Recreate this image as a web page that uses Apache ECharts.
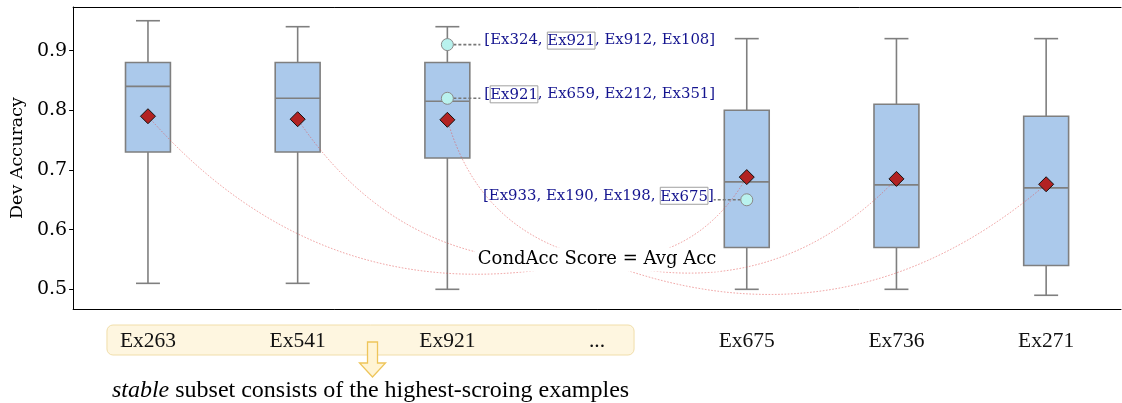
<!DOCTYPE html>
<html>
<head>
<meta charset="utf-8">
<script src="https://cdn.jsdelivr.net/npm/echarts@6.0.0/dist/echarts.min.js"></script>
<style>
  html, body { margin: 0; padding: 0; background: #fff; }
  #chart { width: 1122px; height: 403px; }
</style>
</head>
<body>
<div id="chart"></div>
<script>
// Examples on the x axis ('...' marks the elided middle of the ranking)
const categories = ['Ex263', 'Ex541', 'Ex921', '...', 'Ex675', 'Ex736', 'Ex271'];

// Box statistics of dev accuracy per example (null = no box)
const whiskerLow  = [0.51, 0.51, 0.50, null, 0.50, 0.50, 0.49];
const quartile1   = [0.73, 0.73, 0.72, null, 0.57, 0.57, 0.54];
const medians     = [0.84, 0.82, 0.815, null, 0.68, 0.675, 0.67];
const quartile3   = [0.88, 0.88, 0.88, null, 0.80, 0.81, 0.79];
const whiskerHigh = [0.95, 0.94, 0.94, null, 0.92, 0.92, 0.92];

// CondAcc score (average accuracy) per example
const means = [0.79, 0.785, 0.784, null, 0.688, 0.685, 0.676];

// Highlighted runs: example, accuracy, and the in-context example lists
const noteCategories = ['Ex921', 'Ex921', 'Ex675'];
const noteValues = [0.91, 0.82, 0.65];
const noteLists = [
  ['Ex324', 'Ex921', 'Ex912', 'Ex108'],
  ['Ex921', 'Ex659', 'Ex212', 'Ex351'],
  ['Ex933', 'Ex190', 'Ex198', 'Ex675']
];

// Y axis ticks
const yTicks = [0.5, 0.6, 0.7, 0.8, 0.9];

// Caption texts
const scoreText = 'CondAcc Score = Avg Acc';
const scoreAnchor = ['...', 0.55];
const captionItalic = 'stable';
const captionRest = ' subset consists of the highest-scroing examples';
const stableCount = 3;

const SERIF = '"DejaVu Serif", serif';
const TIMES = '"Liberation Serif", "Times New Roman", serif';

const boxData = [];
const meanData = [];
categories.forEach((c, i) => {
  if (medians[i] !== null) {
    boxData.push([i, whiskerLow[i], quartile1[i], medians[i], quartile3[i], whiskerHigh[i]]);
    meanData.push([i, means[i]]);
  }
});
const noteData = noteCategories.map((c, i) => [categories.indexOf(c), noteValues[i]]);
const scoreIdx = categories.indexOf(scoreAnchor[0]);

function renderBox(params, api) {
  const x = api.value(0);
  const lo = api.coord([x, api.value(1)]);
  const q1 = api.coord([x, api.value(2)]);
  const md = api.coord([x, api.value(3)]);
  const q3 = api.coord([x, api.value(4)]);
  const hi = api.coord([x, api.value(5)]);
  const band = api.size([1, 0])[0];
  const hw = band * 0.15, cw = band * 0.08;
  const cx = q1[0];
  const line = { stroke: '#7f7f7f', lineWidth: 1.6 };
  return {
    type: 'group',
    children: [
      { type: 'line', shape: { x1: cx, y1: lo[1], x2: cx, y2: q1[1] }, style: line },
      { type: 'line', shape: { x1: cx, y1: q3[1], x2: cx, y2: hi[1] }, style: line },
      { type: 'line', shape: { x1: cx - cw, y1: lo[1], x2: cx + cw, y2: lo[1] }, style: line },
      { type: 'line', shape: { x1: cx - cw, y1: hi[1], x2: cx + cw, y2: hi[1] }, style: line },
      { type: 'rect', shape: { x: cx - hw, y: q3[1], width: 2 * hw, height: q1[1] - q3[1] },
        style: { fill: '#abc9eb', stroke: '#7f7f7f', lineWidth: 1.6 } },
      { type: 'line', shape: { x1: cx - hw, y1: md[1], x2: cx + hw, y2: md[1] }, style: line }
    ]
  };
}

function renderLink(params, api) {
  const p = api.coord([api.value(0), api.value(1)]);
  const t = api.coord([scoreIdx, scoreAnchor[1]]);
  const dx = p[0] - t[0], dy = p[1] - t[1];
  // arc bending downwards, 0.3 of the chord length
  const px = dx > 0 ? -dy : dy, py = dx > 0 ? dx : -dx;
  const mx = (p[0] + t[0]) / 2, my = (p[1] + t[1]) / 2;
  return {
    type: 'bezierCurve',
    shape: { x1: t[0], y1: t[1], x2: p[0], y2: p[1], cpx1: mx + 0.3 * px, cpy1: my + 0.3 * py },
    style: { fill: null, stroke: 'rgba(225,80,80,0.6)', lineWidth: 0.9, lineDash: [1.6, 1.6] }
  };
}

function renderNote(params, api) {
  const idx = api.value(0);
  const p = api.coord([idx, api.value(1)]);
  const own = categories[idx];
  const ids = noteLists[params.dataIndex];
  const text = '[' + ids.map(id => id === own ? '{h|' + id + '}' : id).join(', ') + ']';
  const dir = idx > scoreIdx ? -1 : 1;
  const gap = dir > 0 ? 37 : 33;
  return {
    type: 'group',
    children: [
      { type: 'line', shape: { x1: p[0] + dir * 6, y1: p[1], x2: p[0] + dir * 33, y2: p[1] },
        style: { stroke: '#777', lineWidth: 1.6, lineDash: [3, 2] } },
      { type: 'text', x: p[0] + dir * gap, y: p[1] - 4,
        style: {
          text: text, fill: '#14148f', fontFamily: SERIF, fontSize: 14.9,
          align: dir > 0 ? 'left' : 'right', verticalAlign: 'middle',
          rich: { h: { fontFamily: SERIF, fontSize: 14.9, fill: '#14148f',
                       borderColor: '#a0a0a0', borderWidth: 1, padding: [2, 0, 0, 0] } }
        } }
    ]
  };
}

// Score caption in the middle of the plot; white box hides the arc ends under it
function renderScore(params, api) {
  const t = api.coord([api.value(0), api.value(1)]);
  return {
    type: 'text', x: t[0], y: t[1],
    style: {
      text: scoreText, fill: '#000', fontFamily: SERIF, fontSize: 18,
      align: 'center', verticalAlign: 'middle',
      backgroundColor: '#fff', padding: [3, 3, 3, 3]
    }
  };
}

const chart = echarts.init(document.getElementById('chart'), null, { renderer: 'canvas' });

const option = {
  animation: false,
  backgroundColor: '#fff',
  grid: { left: 70, right: 1, top: 7, bottom: 94, show: false },
  xAxis: [{
    type: 'category',
    data: categories,
    boundaryGap: true,
    z: 10,
    axisLine: { lineStyle: { color: '#000', width: 1 } },
    axisTick: { alignWithLabel: true, length: 4, lineStyle: { color: '#000' } },
    axisLabel: { interval: 0, margin: 32, verticalAlign: 'middle', color: '#111',
                 fontFamily: TIMES, fontSize: 21.5 },
    splitLine: { show: false }
  }, {
    // top frame line of the plot area
    type: 'category',
    data: categories,
    position: 'top',
    axisLine: { show: true, lineStyle: { color: '#000', width: 1 } },
    axisTick: { show: false },
    axisLabel: { show: false },
    splitLine: { show: false }
  }],
  yAxis: {
    type: 'value',
    min: 0.467,
    max: 0.973,
    name: 'Dev Accuracy',
    nameLocation: 'middle',
    nameRotate: 90,
    nameGap: 45,
    nameTextStyle: { fontFamily: SERIF, fontSize: 17.5, color: '#000' },
    axisLine: { show: true, lineStyle: { color: '#000', width: 1 } },
    axisTick: { show: true, length: 4, customValues: yTicks, lineStyle: { color: '#000' } },
    axisLabel: { customValues: yTicks, margin: 6, color: '#000', fontFamily: SERIF, fontSize: 19,
                 formatter: v => v.toFixed(1) },
    splitLine: { show: false }
  },
  series: [
    { type: 'custom', name: 'box', z: 2, data: boxData, renderItem: renderBox,
      encode: { x: 0, y: [1, 2, 3, 4, 5] } },
    { type: 'custom', name: 'links', z: 3, data: meanData, renderItem: renderLink,
      encode: { x: 0, y: 1 } },
    { type: 'scatter', name: 'runs', z: 4, data: noteData, symbol: 'circle', symbolSize: 12,
      itemStyle: { color: '#b9f2ee', borderColor: '#8a8a8a', borderWidth: 1, opacity: 1 } },
    { type: 'custom', name: 'notes', z: 4, data: noteData, renderItem: renderNote,
      encode: { x: 0, y: 1 } },
    { type: 'scatter', name: 'mean', z: 5, data: meanData, symbol: 'diamond', symbolSize: 15,
      itemStyle: { color: '#b22222', borderColor: '#111', borderWidth: 1, opacity: 1 } },
    { type: 'custom', name: 'score', z: 6, data: [[scoreIdx, scoreAnchor[1]]], renderItem: renderScore,
      encode: { x: 0, y: 1 } }
  ]
};
chart.setOption(option);

// Stable-subset band under the first examples, with arrow and caption
const xFirst = chart.convertToPixel({ xAxisIndex: 0 }, categories[0]);
const xLast = chart.convertToPixel({ xAxisIndex: 0 }, categories[stableCount]);
const axisY = chart.convertToPixel({ yAxisIndex: 0 }, 0.467);
const bandL = xFirst - 41, bandR = xLast + 37;
const ax = (xFirst + xLast) / 2;
const ay = axisY + 33;
chart.setOption({
  graphic: [
    { type: 'rect', z: -1, shape: { x: bandL, y: axisY + 16, width: bandR - bandL, height: 30, r: 6 },
      style: { fill: '#fef6e0', stroke: '#f1deaa', lineWidth: 1 } },
    { type: 'polygon', z: 20,
      shape: { points: [[ax - 5, ay], [ax + 5, ay], [ax + 5, ay + 21], [ax + 13, ay + 21],
                        [ax, ay + 35], [ax - 13, ay + 21], [ax - 5, ay + 21]] },
      style: { fill: '#fff4d4', stroke: '#eec55a', lineWidth: 1.3 } },
    { type: 'text', z: 20, x: (bandL + bandR) / 2, y: axisY + 82,
      style: {
        text: '{i|' + captionItalic + '}' + captionRest,
        fill: '#000', fontFamily: TIMES, fontSize: 24,
        align: 'center', verticalAlign: 'middle',
        rich: { i: { fontStyle: 'italic', fontFamily: TIMES, fontSize: 24, fill: '#000' } }
      } }
  ]
});
</script>
</body>
</html>
